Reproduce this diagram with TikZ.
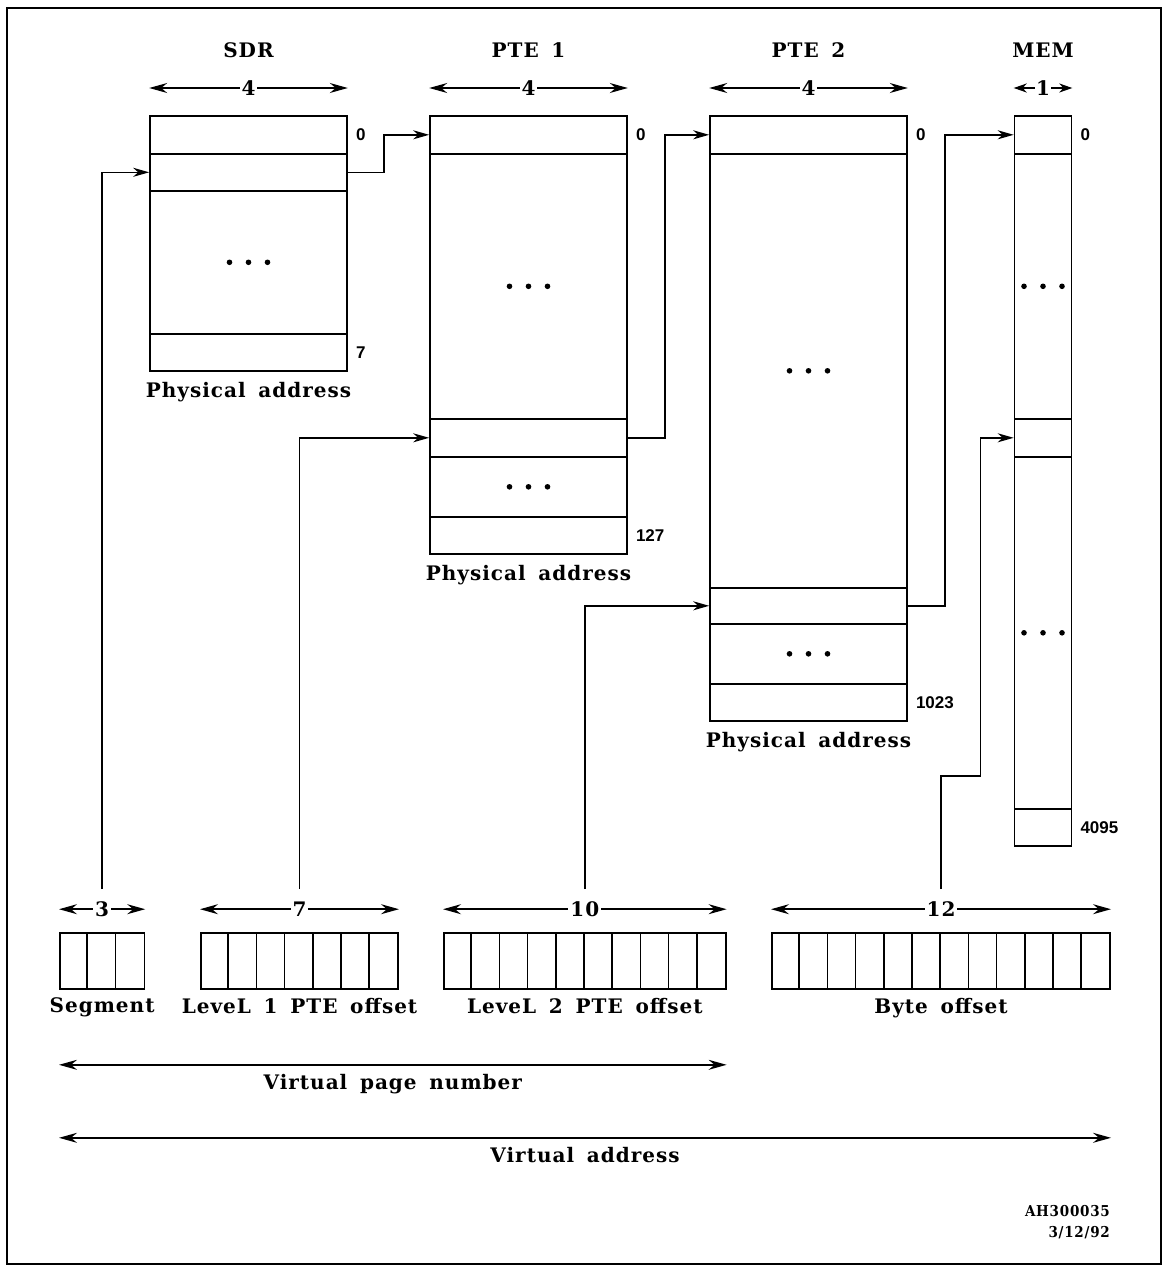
\documentclass[tikz,border=0pt]{standalone}
\usepackage{fontspec}
\setmainfont{DejaVu Serif}
\newfontfamily\lblfont{DejaVu Serif}[LetterSpace=5,WordSpace=1.6]
\newfontfamily\idxfont{Liberation Sans}
\newfontfamily\tagfont{DejaVu Serif Condensed}[LetterSpace=5]
\usetikzlibrary{arrows.meta,positioning}
\tikzset{
  cell/.style={draw,line width=1.6pt,minimum width=#1,inner sep=0pt,anchor=north},
  bitbox/.style={draw,line width=1.6pt,minimum height=56,inner sep=0pt,minimum width=#1},
  idx/.style={font=\idxfont\bfseries\fontsize{17}{17}\selectfont,inner sep=1pt},
  lbl/.style={font=\lblfont\bfseries\fontsize{20}{24}\selectfont,inner sep=1pt},
  num/.style={lbl,fill=white,inner sep=2pt},
  arr/.style={-{Stealth[length=16pt,width=9pt,inset=5pt]},line width=1.5pt},
  darr/.style={{Stealth[length=18pt,width=10pt,inset=6pt]}-{Stealth[length=18pt,width=10pt,inset=6pt]},line width=1.5pt},
  sdarr/.style={{Stealth[length=13pt,width=9pt,inset=4pt]}-{Stealth[length=13pt,width=9pt,inset=4pt]},line width=1.5pt}
}

\begin{document}
\begin{tikzpicture}[x=1pt,y=-1pt]
    \useasboundingbox (0,0) rectangle (1166,1274);
    \draw[line width=2.6pt] (7,8) rectangle (1161,1264);
    % tables
    \foreach \n/\y/\h in {s0/115/38,s1/153/37,sd/190/143,s7/333/37}
      \node[cell=197,minimum height=\h] (\n) at (248.5,\y) {};
    \foreach \n/\y/\h in {p0/115/38,pa/153/265,pe/418/38,pb/456/60,p127/516/37}
      \node[cell=197,minimum height=\h] (\n) at (528.5,\y) {};
    \foreach \n/\y/\h in {q0/115/38,qa/153/434,qe/587/36,qb/623/60,q1023/683/37}
      \node[cell=197,minimum height=\h] (\n) at (808.5,\y) {};
    \foreach \n/\y/\h in {m0/115/38,ma/153/265,me/418/38,mb/456/352,m4095/808/37}
      \node[cell=57,minimum height=\h] (\n) at (1043,\y) {};
    \foreach \c in {sd,pa,pb,qa,qb,ma,mb}
      \foreach \k in {-19,0,19}
        \fill ([xshift=\k]\c.center) circle (2.8pt);
    \foreach \n/\t in {s0/0,s7/7,p0/0,p127/127,q0/0,q1023/1023,m0/0,m4095/4095}
      \node[idx,right=7pt of \n] (\n-i) {\t};
    \foreach \n/\x/\t in {sdrt/248.5/SDR,pte1t/528.5/PTE 1,pte2t/808.5/PTE 2,memt/1043/MEM}
      \node[lbl] (\n) at (\x,50) {\t};
    \foreach \n in {s0,p0,q0}
      \draw[darr] ([yshift=27]\n.north west) -- node[num]{4} ([yshift=27]\n.north east);
    \draw[sdarr] ([yshift=27]m0.north west) -- node[num,inner sep=1pt]{1} ([yshift=27]m0.north east);
    \foreach \n/\t in {s7/Physical address,p127/Physical address,q1023/Physical address}
      \node[lbl,below=9pt of \n] (\n-lbl) {\t};
    % virtual address fields
    \foreach \n/\x/\k in {seg/59/3,lvla/200/7,lvlb/443/10,byte/771/12}{
      \node[bitbox=\k*28.2,anchor=west] (\n) at (\x,961) {};
      \pgfmathtruncatemacro\last{\k-1}
      \foreach \i in {1,...,\last}
        \draw[line width=1.6pt] ([xshift=\i*28.2]\n.north west) -- ([xshift=\i*28.2]\n.south west);
      \draw[darr] ([yshift=23]\n.north west) -- node[num]{\k} ([yshift=23]\n.north east);
    }
    \foreach \n in {seg,lvla,lvlb,byte}
      \coordinate (\n-up) at ([yshift=43]\n.north);
    \foreach \n/\t in {seg/Segment,lvla/LeveL 1 PTE offset,lvlb/LeveL 2 PTE offset,byte/Byte offset}
      \node[lbl,below=7pt of \n] (\n-lbl) {\t};
    \draw[darr] ([yshift=-75]seg.south west) -- node[lbl,below=8pt] (vpn) {Virtual page number} ([yshift=-75]lvlb.south east);
    \draw[darr] ([yshift=-148]seg.south west) -- node[lbl,below=8pt] (va) {Virtual address} ([yshift=-148]byte.south east);
    \node[font=\tagfont\bfseries\fontsize{15}{21}\selectfont,align=right,anchor=north east,inner sep=0pt] (tag) at (1110,1205) {AH300035\\3/12/92};
    % connectors
    \draw[arr] (seg-up) |- (s1.west);
    \draw[arr] (lvla-up) |- (pe.west);
    \draw[arr] (lvlb-up) |- (qe.west);
    \coordinate (mjog) at ([xshift=-33]me.west);
    \draw[arr] (byte-up) -- ++(0,-113) -| (mjog) -- (me.west);
    \draw[arr] (s1.east) -- ++(36,0) |- (p0.west);
    \draw[arr] (pe.east) -- ++(37,0) |- (q0.west);
    \draw[arr] (qe.east) -- ++(37,0) |- (m0.west);
\end{tikzpicture}
\end{document}
